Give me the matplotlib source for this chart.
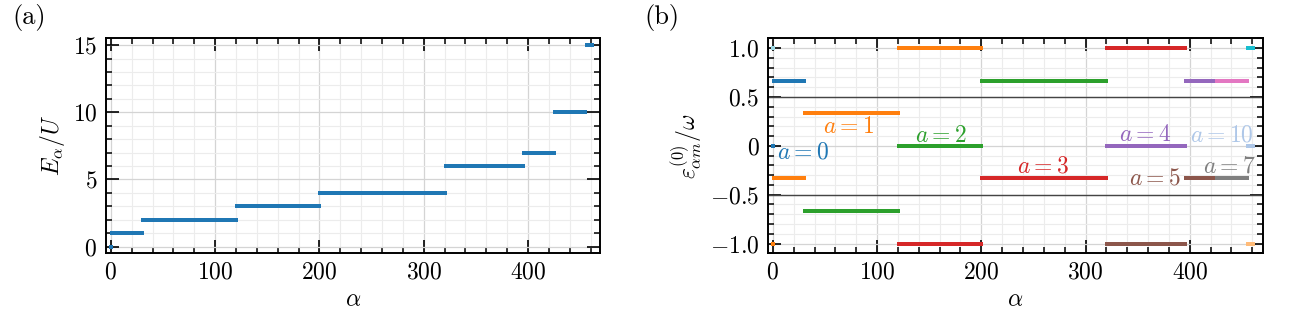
import numpy as np
import matplotlib
matplotlib.use("Agg")
import matplotlib.pyplot as plt
from matplotlib.ticker import MultipleLocator, FixedLocator, FixedFormatter

plt.rcParams.update({
    "font.family": "serif",
    "font.serif": ["cmr10", "DejaVu Serif"],
    "mathtext.fontset": "cm",
    "axes.formatter.use_mathtext": True,
    "font.size": 17,
    "axes.linewidth": 1.4,
    "xtick.direction": "in",
    "ytick.direction": "in",
    "xtick.top": True,
    "ytick.right": True,
    "xtick.major.size": 9.5,
    "ytick.major.size": 9.5,
    "xtick.minor.size": 4.5,
    "ytick.minor.size": 4.5,
    "xtick.major.width": 1.2,
    "ytick.major.width": 1.2,
    "xtick.minor.width": 1.1,
    "ytick.minor.width": 1.1,
    "xtick.major.pad": 6,
    "ytick.major.pad": 6,
})

# energy levels E/U and how many states alpha sit on each
level_E = [0, 1, 2, 3, 4, 6, 7, 10, 15]
level_deg = [1, 30, 90, 80, 120, 75, 30, 30, 6]

# quasi-energy branches: (level index, band a, eps/omega)
branch_level = [0, 0, 0, 1, 1, 2, 2, 3, 3, 3, 4, 4, 5, 5, 5, 6, 6, 7, 7, 8, 8, 8]
branch_a = [-1, 0, 1, 0, 1, 1, 2, 1, 2, 3, 2, 3, 3, 4, 5, 4, 5, 6, 7, 9, 10, 11]
branch_eps = [1.0, 0.0, -1.0, 2/3, -1/3, 1/3, -2/3, 1.0, 0.0, -1.0, 2/3, -1/3,
              1.0, 0.0, -1.0, 2/3, -1/3, 2/3, -1/3, 1.0, 0.0, -1.0]

# label positions for some of the bands (alpha, eps)
label_a = [0, 1, 2, 3, 4, 5, 7, 10]
label_x = [29, 73, 161, 259, 357, 366, 438, 431]
label_y = [-0.07, 0.19, 0.10, -0.21, 0.11, -0.33, -0.21, 0.11]

palette = ["#1f77b4", "#ff7f0e", "#2ca02c", "#d62728", "#9467bd", "#8c564b",
           "#e377c2", "#7f7f7f", "#bcbd22", "#17becf", "#aec7e8", "#ffbb78",
           "#98df8a", "#ff9896", "#c5b0d5", "#c49c94", "#f7b6d2", "#c7c7c7",
           "#dbdb8d", "#9edae5"]

level_of = np.repeat(np.arange(len(level_E)), level_deg)
alpha = np.arange(len(level_of))
E = np.array(level_E)[level_of]

fig = plt.figure(figsize=(13, 3.17), dpi=100)
ax1 = fig.add_axes([0.0812, 0.201, 0.3804, 0.678])
ax2 = fig.add_axes([0.5905, 0.201, 0.3808, 0.678])


def style(ax):
    ax.xaxis.set_major_locator(MultipleLocator(100))
    ax.xaxis.set_minor_locator(MultipleLocator(20))
    ax.grid(which="major", color="#d4d4d4", lw=0.9, zorder=0)
    ax.grid(which="minor", color="#ececec", lw=0.8, zorder=0)
    ax.set_axisbelow(True)
    ax.set_xlabel(r"$\alpha$")


ax1.plot(alpha, E, "s", ms=2.2, mew=0, color=palette[0])
ax1.set_xlim(-5, 469)
ax1.set_ylim(-0.5, 15.5)
ax1.yaxis.set_major_locator(MultipleLocator(5))
ax1.yaxis.set_minor_locator(MultipleLocator(1))
style(ax1)
ax1.set_ylabel(r"$E_\alpha/U$")

ax2.axhline(0.5, color="#444444", lw=1.0, zorder=1)
ax2.axhline(-0.5, color="#444444", lw=1.0, zorder=1)
branch_level = np.array(branch_level)
branch_a = np.array(branch_a)
branch_eps = np.array(branch_eps)
for a in sorted(set(branch_a.tolist())):
    xs, ys = [], []
    for lev, eps in zip(branch_level[branch_a == a], branch_eps[branch_a == a]):
        sel = alpha[level_of == lev]
        xs.append(sel)
        ys.append(np.full(len(sel), eps))
    ax2.plot(np.concatenate(xs), np.concatenate(ys), "s", ms=2.2, mew=0,
             color=palette[a], zorder=2)

for a, x, y in zip(label_a, label_x, label_y):
    ax2.text(x, y, rf"$a={a}$", color=palette[a], ha="center", va="center",
             fontsize=17, zorder=3)

ax2.set_xlim(-5, 470)
ax2.set_ylim(-1.1, 1.1)
ax2.yaxis.set_major_locator(FixedLocator([-1.0, -0.5, 0.0, 0.5, 1.0]))
ax2.yaxis.set_major_formatter(FixedFormatter([r"$-1.0$", r"$-0.5$", r"$0$", r"$0.5$", r"$1.0$"]))
ax2.yaxis.set_minor_locator(MultipleLocator(0.1))
style(ax2)
ax2.set_ylabel(r"$\varepsilon^{(0)}_{\alpha m}/\omega$")

fig.text(0.0095, 0.945, "(a)", ha="left", va="center", fontsize=19)
fig.text(0.496, 0.945, "(b)", ha="left", va="center", fontsize=19)

fig.savefig("out.png", dpi=100)
